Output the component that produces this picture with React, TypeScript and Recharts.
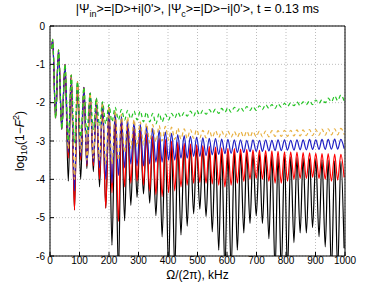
import { LineChart, Line, XAxis, YAxis, CartesianGrid } from 'recharts';

// frequencies (kHz) of the local maxima and minima of the oscillation
const peakKHz = [
  9, 29, 51, 72, 93, 115, 136, 157, 178, 200,
  221, 242, 263, 285, 306, 327, 348, 370, 391, 412,
  433, 455, 476, 497, 518, 540, 561, 582, 603, 625,
  646, 667, 688, 710, 731, 752, 773, 795, 816, 837,
  858, 880, 901, 922, 943, 965, 986,
];
const dipKHz = [
  19, 40, 62, 83, 104, 125, 147, 168, 189, 210,
  232, 253, 274, 295, 317, 338, 359, 380, 402, 423,
  444, 465, 487, 508, 529, 550, 572, 593, 614, 635,
  657, 678, 699, 720, 742, 763, 784, 805, 827, 848,
  869, 890, 912, 933, 954, 975, 997,
];

const startKHz = 6;
const startLevel = -0.6;

const blackPeaks = [
  -0.35, -0.62, -1.0, -1.28, -1.45, -1.6, -1.75, -1.9, -2.0, -2.12,
  -2.28, -2.42, -2.55, -2.65, -2.75, -2.84, -2.92, -2.97, -3.02, -3.06,
  -3.09, -3.12, -3.15, -3.17, -3.19, -3.21, -3.23, -3.25, -3.27, -3.28,
  -3.3, -3.31, -3.33, -3.34, -3.36, -3.37, -3.39, -3.4, -3.41, -3.43,
  -3.44, -3.46, -3.47, -3.49, -3.5, -3.52, -3.53,
];
const blackDips = [
  -2.4, -2.7, -4.05, -4.8, -4.0, -3.72, -3.8, -4.2, -4.75, -5.72,
  -6.5, -5.08, -4.68, -4.47, -4.38, -4.62, -4.95, -5.5, -6.4, -6.4,
  -5.45, -5.22, -4.9, -4.78, -4.97, -5.37, -5.85, -6.4, -6.4, -5.85,
  -5.4, -5.15, -4.95, -5.15, -5.55, -6.4, -6.4, -6.4, -5.65, -5.4,
  -5.4, -5.26, -5.5, -5.76, -6.4, -6.4, -5.8,
];

const redPeaks = [
  -0.35, -0.62, -1.0, -1.28, -1.45, -1.6, -1.75, -1.9, -2.0, -2.12,
  -2.27, -2.4, -2.52, -2.62, -2.72, -2.8, -2.87, -2.92, -2.96, -3.0,
  -3.03, -3.06, -3.08, -3.1, -3.12, -3.14, -3.16, -3.18, -3.19, -3.2,
  -3.21, -3.22, -3.23, -3.24, -3.25, -3.26, -3.27, -3.28, -3.28, -3.29,
  -3.3, -3.31, -3.32, -3.33, -3.33, -3.34, -3.35,
];
const redDips = [
  -2.4, -2.68, -3.45, -4.8, -3.5, -3.65, -3.65, -4.0, -4.75, -4.35,
  -5.1, -4.2, -4.1, -4.05, -4.15, -4.3, -4.4, -4.45, -4.35, -4.3,
  -4.2, -4.15, -4.1, -4.08, -4.1, -4.12, -4.15, -4.2, -4.15, -4.1,
  -4.05, -4.0, -3.98, -4.0, -4.05, -4.1, -4.1, -4.05, -4.0, -3.98,
  -3.98, -3.95, -3.98, -4.0, -4.05, -4.02, -3.95,
];

const bluePeaks = [
  -0.35, -0.62, -1.0, -1.28, -1.45, -1.6, -1.75, -1.9, -2.0, -2.12,
  -2.25, -2.35, -2.45, -2.5, -2.56, -2.62, -2.67, -2.72, -2.76, -2.8,
  -2.83, -2.86, -2.88, -2.9, -2.92, -2.93, -2.94, -2.95, -2.96, -2.97,
  -2.97, -2.98, -2.97, -2.98, -2.97, -2.98, -2.97, -2.97, -2.98, -2.97,
  -2.97, -2.96, -2.97, -2.96, -2.96, -2.95, -2.96,
];
const blueDips = [
  -2.4, -2.68, -3.3, -4.3, -3.4, -3.6, -3.55, -3.7, -4.0, -4.1,
  -3.9, -3.7, -3.6, -3.65, -3.65, -3.6, -3.55, -3.55, -3.5, -3.5,
  -3.45, -3.45, -3.4, -3.4, -3.38, -3.36, -3.35, -3.33, -3.32, -3.3,
  -3.3, -3.28, -3.27, -3.27, -3.26, -3.25, -3.25, -3.24, -3.24, -3.23,
  -3.23, -3.22, -3.22, -3.22, -3.21, -3.21, -3.2,
];

const orangePeaks = [
  -0.35, -0.62, -1.0, -1.28, -1.45, -1.6, -1.75, -1.9, -2.0, -2.1,
  -2.2, -2.3, -2.38, -2.44, -2.5, -2.54, -2.57, -2.6, -2.62, -2.64,
  -2.66, -2.68, -2.7, -2.7, -2.72, -2.72, -2.73, -2.74, -2.74, -2.75,
  -2.75, -2.74, -2.75, -2.74, -2.74, -2.73, -2.73, -2.72, -2.72, -2.71,
  -2.71, -2.7, -2.7, -2.69, -2.68, -2.68, -2.67,
];
const orangeDips = [
  -2.4, -2.68, -3.2, -4.0, -3.3, -3.5, -3.45, -3.5, -3.6, -3.6,
  -3.5, -3.3, -3.2, -3.15, -3.1, -3.05, -3.02, -3.0, -2.98, -2.96,
  -2.95, -2.94, -2.93, -2.92, -2.92, -2.91, -2.91, -2.9, -2.9, -2.9,
  -2.9, -2.9, -2.89, -2.89, -2.89, -2.88, -2.88, -2.88, -2.87, -2.87,
  -2.86, -2.86, -2.85, -2.85, -2.84, -2.84, -2.83,
];

const greenPeaks = [
  -0.35, -0.62, -1.0, -1.28, -1.45, -1.6, -1.75, -1.88, -1.98, -2.05,
  -2.12, -2.18, -2.2, -2.22, -2.22, -2.25, -2.28, -2.28, -2.3, -2.28,
  -2.25, -2.25, -2.22, -2.2, -2.2, -2.18, -2.17, -2.15, -2.13, -2.12,
  -2.12, -2.1, -2.1, -2.08, -2.05, -2.05, -2.03, -2.02, -2.0, -1.98,
  -1.98, -1.95, -1.93, -1.92, -1.88, -1.82, -1.8,
];
const greenDips = [
  -2.4, -2.68, -3.0, -3.05, -2.9, -2.8, -2.7, -2.6, -2.55, -2.5,
  -2.45, -2.45, -2.42, -2.45, -2.5, -2.5, -2.55, -2.5, -2.45, -2.4,
  -2.38, -2.35, -2.35, -2.32, -2.3, -2.28, -2.28, -2.25, -2.25, -2.22,
  -2.22, -2.2, -2.2, -2.18, -2.15, -2.15, -2.12, -2.1, -2.08, -2.08,
  -2.05, -2.05, -2.02, -2.0, -1.98, -1.95, -1.95,
];

const xTicks = [0, 100, 200, 300, 400, 500, 600, 700, 800, 900, 1000];
const yTicks = [-6, -5, -4, -3, -2, -1, 0];

const data: Record<string, number>[] = [
  { f: startKHz, black: startLevel, red: startLevel, blue: startLevel, orange: startLevel, green: startLevel },
];
peakKHz.forEach((f, i) => {
  data.push({ f, black: blackPeaks[i], red: redPeaks[i], blue: bluePeaks[i], orange: orangePeaks[i], green: greenPeaks[i] });
  data.push({ f: dipKHz[i], black: blackDips[i], red: redDips[i], blue: blueDips[i], orange: orangeDips[i], green: greenDips[i] });
});

const font = '"Liberation Sans", Arial, sans-serif';
const tickStyle = { fontSize: 10, fill: '#000', fontFamily: font };

export default function App() {
  return (
    <div style={{ position: 'absolute', left: 0, top: 0, width: 382, height: 287, background: '#fff', fontFamily: font }}>
      <LineChart width={382} height={287} data={data} margin={{ top: 0, right: 0, bottom: 0, left: 0 }}>
        <CartesianGrid stroke="#bdbdbd" strokeDasharray="1 2" />
        <XAxis
          dataKey="f" type="number" domain={[0, 1000]} ticks={xTicks} height={31}
          stroke="#000" tickSize={-4} tickMargin={5} tick={tickStyle} interval={0}
        />
        <XAxis
          xAxisId="top" orientation="top" dataKey="f" type="number" domain={[0, 1000]} ticks={xTicks}
          height={26} stroke="#000" tickSize={-4} tick={false} interval={0}
        />
        <YAxis
          type="number" domain={[-6, 0]} ticks={yTicks} width={50} allowDataOverflow
          stroke="#000" tickSize={-4} tickMargin={9} tick={tickStyle} interval={0}
        />
        <YAxis
          yAxisId="right" orientation="right" type="number" domain={[-6, 0]} ticks={yTicks} width={37}
          stroke="#000" tickSize={-4} tick={false} interval={0}
        />
        <Line dataKey="black" type="monotone" stroke="#000000" strokeWidth={1.2} dot={false} isAnimationActive={false} />
        <Line dataKey="red" type="monotone" stroke="#ff0000" strokeWidth={1.2} dot={false} isAnimationActive={false} />
        <Line dataKey="blue" type="monotone" stroke="#1f1fc4" strokeWidth={1.2} dot={false} isAnimationActive={false} />
        <Line dataKey="orange" type="monotone" stroke="#e8b040" strokeWidth={1.2} strokeDasharray="4 3" dot={false} isAnimationActive={false} />
        <Line dataKey="green" type="monotone" stroke="#22c322" strokeWidth={1.2} strokeDasharray="4 3" dot={false} isAnimationActive={false} />
      </LineChart>

      <div style={{ position: 'absolute', left: 0, top: 2, width: 395, textAlign: 'center', fontSize: 12.5, lineHeight: '14px', whiteSpace: 'nowrap' }}>
        |Ψ<sub style={{ fontSize: 9 }}>in</sub>&gt;=|D&gt;+i|0'&gt;, |Ψ<sub style={{ fontSize: 9 }}>c</sub>&gt;=|D&gt;−i|0'&gt;, t = 0.13 ms
      </div>

      <div style={{ position: 'absolute', left: 0, top: 268, width: 395, textAlign: 'center', fontSize: 12, lineHeight: '14px', whiteSpace: 'nowrap' }}>
        Ω/(2π), kHz
      </div>

      <div
        style={{
          position: 'absolute', left: 20, top: 141, width: 120, textAlign: 'center', fontSize: 12, lineHeight: '14px',
          whiteSpace: 'nowrap', transform: 'translate(-50%, -50%) rotate(-90deg)',
        }}
      >
        log<sub style={{ fontSize: 9 }}>10</sub>(1−<i>F</i><sup style={{ fontSize: 9 }}>2</sup>)
      </div>
    </div>
  );
}
